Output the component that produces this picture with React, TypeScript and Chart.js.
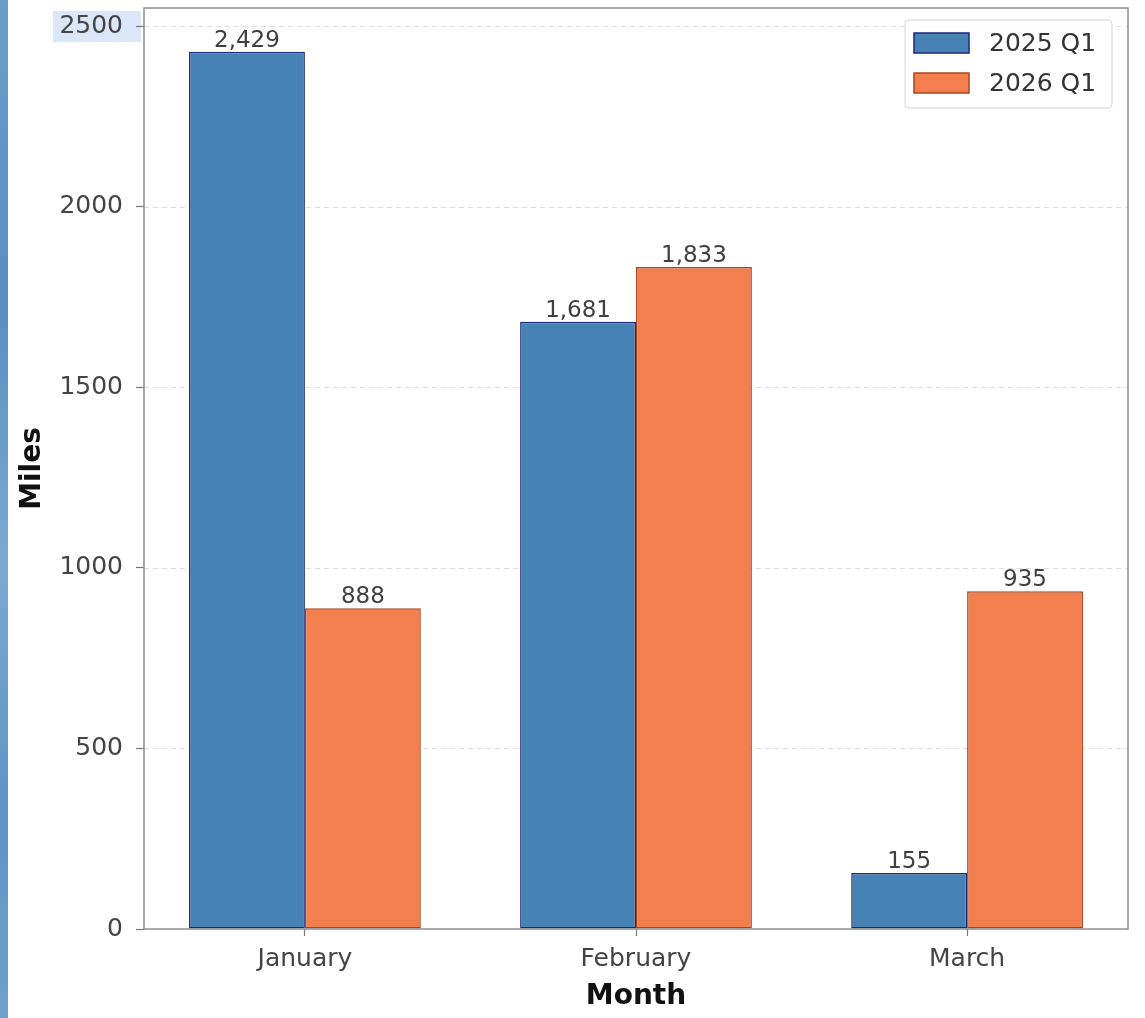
import React, { useEffect, useRef } from "react";
import { Chart, registerables } from "chart.js";

Chart.register(...registerables);

const categories = ["January", "February", "March"];
const seriesLabels = ["2025 Q1", "2026 Q1"];
const values2025 = [2429, 1681, 155];
const values2026 = [888, 1833, 935];
const yTicks = [0, 500, 1000, 1500, 2000, 2500];

const FONT = "'DejaVu Sans', sans-serif";
const BLUE = "#4682b4";
const BLUE_EDGE = "#1b2a78";
const ORANGE = "#f47f4e";
const ORANGE_EDGE = "#a8451c";

const overlayPlugin = {
  id: "overlay",
  beforeDraw(chart: any) {
    const ctx = chart.ctx;
    const y = chart.scales.y;
    const py = y.getPixelForValue(2500);
    ctx.save();
    ctx.fillStyle = "#d9e7f8";
    ctx.fillRect(53, py - 15, 88, 31);
    ctx.restore();
  },
  beforeDatasetsDraw(chart: any) {
    const ctx = chart.ctx;
    const a = chart.chartArea;
    const y = chart.scales.y;
    ctx.save();
    ctx.strokeStyle = "rgba(0,0,0,0.13)";
    ctx.lineWidth = 1;
    ctx.setLineDash([5, 4]);
    yTicks.forEach((t) => {
      if (t === 0) return;
      const py = Math.round(y.getPixelForValue(t)) + 0.5;
      ctx.beginPath();
      ctx.moveTo(a.left, py);
      ctx.lineTo(a.right, py);
      ctx.stroke();
    });
    ctx.restore();
  },
  afterDatasetsDraw(chart: any) {
    const ctx = chart.ctx;
    const a = chart.chartArea;
    ctx.save();
    // value labels
    ctx.font = `23px ${FONT}`;
    ctx.fillStyle = "#404040";
    ctx.textAlign = "center";
    ctx.textBaseline = "alphabetic";
    chart.data.datasets.forEach((ds: any, di: number) => {
      const meta = chart.getDatasetMeta(di);
      meta.data.forEach((el: any, i: number) => {
        const v = ds.data[i].y;
        ctx.fillText(v.toLocaleString("en-US"), el.x, el.y - 5);
      });
    });
    // frame
    ctx.strokeStyle = "#8c8c8c";
    ctx.lineWidth = 1.5;
    ctx.strokeRect(a.left, a.top, a.right - a.left, a.bottom - a.top);
    // titles
    ctx.fillStyle = "#111";
    ctx.font = `bold 28px ${FONT}`;
    ctx.textAlign = "center";
    ctx.textBaseline = "middle";
    ctx.fillText("Month", (a.left + a.right) / 2, 997);
    ctx.save();
    ctx.translate(33, (a.top + a.bottom) / 2);
    ctx.rotate(-Math.PI / 2);
    ctx.fillText("Miles", 0, 0);
    ctx.restore();
    // legend
    const lx = 905, ly = 20, lw = 207, lh = 88;
    ctx.beginPath();
    ctx.roundRect(lx, ly, lw, lh, 4);
    ctx.fillStyle = "rgba(255,255,255,0.85)";
    ctx.fill();
    ctx.strokeStyle = "#d6d6d6";
    ctx.lineWidth = 1;
    ctx.stroke();
    const fills = [BLUE, ORANGE];
    const edges = [BLUE_EDGE, ORANGE_EDGE];
    const rowsY = [43, 83];
    seriesLabels.forEach((lab, i) => {
      ctx.fillStyle = fills[i];
      ctx.fillRect(914, rowsY[i] - 10, 55, 20);
      ctx.strokeStyle = edges[i];
      ctx.lineWidth = 1.5;
      ctx.strokeRect(914, rowsY[i] - 10, 55, 20);
      ctx.fillStyle = "#333";
      ctx.font = `25px ${FONT}`;
      ctx.textAlign = "left";
      ctx.textBaseline = "middle";
      ctx.fillText(lab, 989, rowsY[i] + 1);
    });
    ctx.restore();
  },
};

export default function App() {
  const ref = useRef<HTMLCanvasElement | null>(null);
  useEffect(() => {
    if (!ref.current) return;
    const chart = new Chart(ref.current, {
      type: "bar",
      data: {
        datasets: [
          {
            label: seriesLabels[0],
            data: values2025.map((v, i) => ({ x: i, y: v })),
            backgroundColor: BLUE,
            borderColor: BLUE_EDGE,
            borderWidth: 1.5,
            borderSkipped: false,
          },
          {
            label: seriesLabels[1],
            data: values2026.map((v, i) => ({ x: i, y: v })),
            backgroundColor: ORANGE,
            borderColor: ORANGE_EDGE,
            borderWidth: 1.5,
            borderSkipped: false,
          },
        ],
      },
      options: {
        animation: false,
        responsive: false,
        maintainAspectRatio: false,
        layout: { padding: { top: 8, right: 17, left: 0, bottom: 0 } },
        datasets: { bar: { categoryPercentage: 0.7, barPercentage: 1.0 } },
        plugins: { legend: { display: false }, tooltip: { enabled: false } },
        scales: {
          x: {
            type: "linear",
            min: -0.486,
            max: 2.486,
            offset: false,
            afterBuildTicks: (scale: any) => {
              scale.ticks = categories.map((_, i) => ({ value: i }));
            },
            afterFit: (scale: any) => {
              scale.height = 89;
              scale.paddingLeft = 0;
              scale.paddingRight = 0;
            },
            ticks: {
              autoSkip: false,
              maxRotation: 0,
              padding: 8,
              color: "#444",
              font: { family: FONT, size: 25 },
              callback: (v: any) => categories[v] ?? "",
            },
            grid: {
              offset: false,
              drawOnChartArea: false,
              drawTicks: true,
              tickLength: 7,
              tickColor: "#777",
              tickWidth: 1.2,
            },
            border: { display: false },
          },
          y: {
            type: "linear",
            min: 0,
            max: 2550,
            afterBuildTicks: (scale: any) => {
              scale.ticks = yTicks.map((v) => ({ value: v }));
            },
            afterFit: (scale: any) => {
              scale.width = 144;
              scale.paddingTop = 0;
              scale.paddingBottom = 0;
            },
            ticks: {
              padding: 13,
              color: "#444",
              font: { family: FONT, size: 25 },
              callback: (v: any) => String(v),
            },
            grid: {
              drawOnChartArea: false,
              drawTicks: true,
              tickLength: 8,
              tickColor: "#777",
              tickWidth: 1.2,
            },
            border: { display: false },
          },
        },
      } as any,
      plugins: [overlayPlugin],
    });
    return () => chart.destroy();
  }, []);

  return (
    <div style={{ position: "absolute", left: 0, top: 0, width: 1145, height: 1018, background: "#fff" }}>
      <div
        style={{
          position: "absolute",
          left: 0,
          top: 0,
          width: 8,
          height: 1018,
          background: "linear-gradient(to bottom, #6b9dca, #5a8ebf 30%, #7aaad2 55%, #5f93c3 80%, #6fa1cc)",
        }}
      />
      <canvas ref={ref} width={1145} height={1018} style={{ position: "absolute", left: 0, top: 0, width: 1145, height: 1018 }} />
    </div>
  );
}
